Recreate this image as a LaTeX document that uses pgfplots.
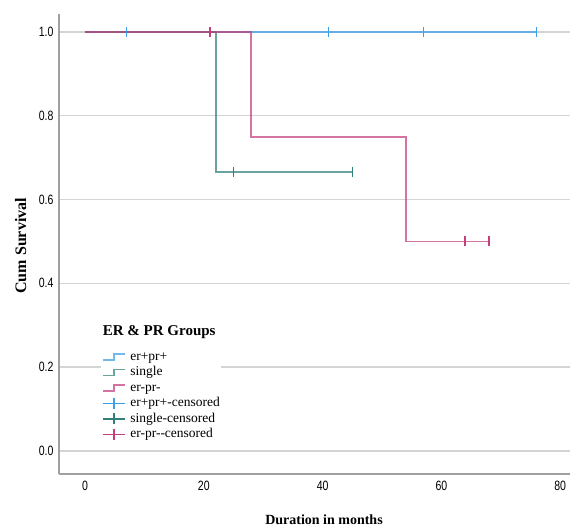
\documentclass[border=0pt]{standalone}
\usepackage{fontspec}
\setmainfont{Liberation Serif}
\newfontfamily\narrowsans[FakeStretch=0.78]{Liberation Sans}
\usepackage{pgfplots}
\pgfplotsset{compat=1.18}

\definecolor{cblue}{RGB}{60,160,232}
\definecolor{cteal}{RGB}{50,128,122}
\definecolor{cpink}{RGB}{196,62,124}
\definecolor{gridgray}{RGB}{212,212,212}
\definecolor{axgray}{RGB}{160,160,160}

\pgfplotsset{
  stepleg/.style={legend image code/.code={%
    \draw[line width=1.6pt,#1] (0pt,-2pt) -- (11pt,-2pt) -- (11pt,4pt) -- (22pt,4pt);}},
  cenleg/.style={legend image code/.code={%
    \draw[line width=1.5pt,#1] (0pt,1pt) -- (22pt,1pt) (11pt,-4.5pt) -- (11pt,6.5pt);}},
}

\begin{document}
\begin{tikzpicture}
\begin{axis}[
    scale only axis,
    width=511pt, height=460pt,
    xmin=-4.38, xmax=81.65,
    ymin=-0.055, ymax=1.043,
    axis x line*=bottom,
    axis y line*=left,
    axis line style={-, axgray, line width=1.3pt},
    xtick={0,20,40,60,80},
    ytick={0,0.2,0.4,0.6,0.8,1.0},
    major tick length=0pt,
    ymajorgrids,
    major grid style={gridgray, line width=1.3pt},
    /pgf/number format/assume math mode=true,
    yticklabel style={/pgf/number format/.cd, fixed, fixed zerofill, precision=1, /tikz/.cd},
    ticklabel style={font=\narrowsans\fontsize{13.5}{15}\selectfont},
    yticklabel style={xshift=-2pt},
    xticklabel style={yshift=-4pt},
    label style={font=\bfseries\fontsize{14}{16}\selectfont},
    xlabel={Duration in months},
    ylabel={Cum Survival},
    xlabel style={at={(rel axis cs:0.5186,-0.1)}, anchor=center},
    ylabel style={at={(rel axis cs:-0.0748,0.496)}, anchor=center,
        font=\bfseries\fontsize{16}{18}\selectfont},
    legend cell align=left,
    legend style={at={(rel axis cs:0.0822,0.2695)}, anchor=north west,
        fill=white, draw=none, inner xsep=1pt, inner ysep=0pt,
        row sep=0pt, column sep=4pt,
        font=\fontsize{13.5}{15}\selectfont,
        nodes={inner sep=0.5pt, text height=9.5pt, text depth=5pt}},
]
% survival steps
\addplot[const plot, cblue, line width=1.8pt, opacity=0.72, stepleg=cblue]
    coordinates {(0,1) (76,1)};
\addlegendentry{er+pr+}
\addplot[const plot, cteal, line width=1.8pt, opacity=0.72, stepleg=cteal]
    coordinates {(0,1) (22,0.6667) (45,0.6667)};
\addlegendentry{single}
\addplot[const plot, cpink, line width=1.8pt, opacity=0.72, stepleg=cpink]
    coordinates {(0,1) (28,0.75) (54,0.5) (68,0.5)};
\addlegendentry{er-pr-}
% censored marks
\addplot[only marks, mark=|, mark size=5pt, cblue, mark options={line width=1.5pt}, cenleg=cblue]
    coordinates {(7,1) (41,1) (57,1) (76,1)};
\addlegendentry{er+pr+-censored}
\addplot[only marks, mark=|, mark size=5pt, cteal, mark options={line width=1.5pt}, cenleg=cteal]
    coordinates {(25,0.6667) (45,0.6667)};
\addlegendentry{single-censored}
\addplot[only marks, mark=|, mark size=5pt, cpink, mark options={line width=1.5pt}, cenleg=cpink]
    coordinates {(21,1) (64,0.5) (68,0.5)};
\addlegendentry{er-pr-{}-censored}

\node[anchor=west, inner sep=0pt, font=\bfseries\fontsize{15}{17}\selectfont]
    at (rel axis cs:0.0855,0.3093) {ER \& PR Groups};

\coordinate (bbll) at (rel axis cs:-0.1155,-0.1174);
\coordinate (bbur) at (rel axis cs:1,1.0304);
\end{axis}
\pgfresetboundingbox
\path (bbll) rectangle (bbur);
\end{tikzpicture}
\end{document}
